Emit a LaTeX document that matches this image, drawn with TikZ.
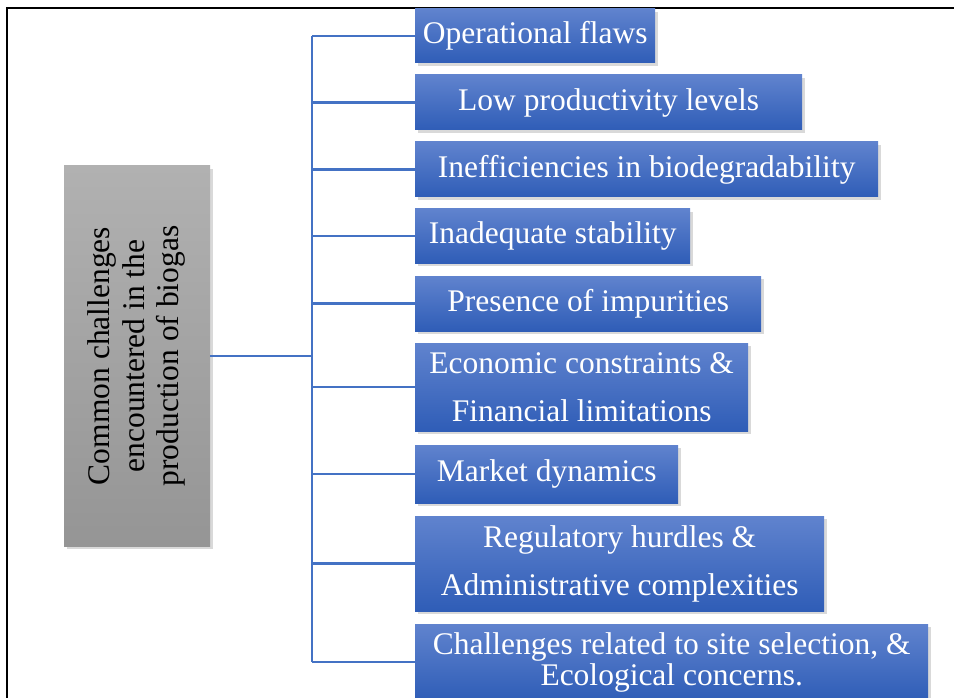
\documentclass[tikz,border=0pt]{standalone}
\usepackage{fontspec}
\setmainfont{Liberation Serif}
\usetikzlibrary{shadows}
\definecolor{linkblue}{RGB}{68,114,196}
\definecolor{boxtop}{RGB}{96,131,206}
\definecolor{boxmid}{RGB}{64,110,200}
\definecolor{boxbot}{RGB}{47,93,183}
\definecolor{greytop}{RGB}{177,177,177}
\definecolor{greybot}{RGB}{149,149,149}

\begin{document}
\begin{tikzpicture}[x=1pt, y=-1pt,
  every node/.style={font=\fontsize{31.5}{48}\selectfont},
  challenge/.style={anchor=west, inner sep=0pt, align=center, text=white,
    top color=boxtop, middle color=boxmid, bottom color=boxbot,
    drop shadow={shadow xshift=2.5pt, shadow yshift=-3pt, opacity=0.3}},
  link/.style={draw=linkblue, line width=2.6pt}]
  \clip (0,0) rectangle (954,698);
  \draw[line width=2.4pt] (7,8) rectangle (1000,760);
  % topic box
  \node[minimum width=146pt, minimum height=380pt, inner sep=0pt,
    top color=greytop, bottom color=greybot,
    drop shadow={shadow xshift=2.5pt, shadow yshift=-3pt, opacity=0.3}] (main) at (137,356)
    {\rotatebox{90}{\fontsize{31.5}{35}\selectfont\begin{tabular}{c}Common challenges\\ encountered in the\\ production of biogas\end{tabular}}};
  % challenges
  \node[challenge, minimum width=240pt, minimum height=54pt] (c1) at (415,36) {Operational flaws};
  \node[challenge, minimum width=387pt, minimum height=55pt] (c2) at (415,102.5) {Low productivity levels};
  \node[challenge, minimum width=463pt, minimum height=55pt] (c3) at (415,169.5) {Inefficiencies in biodegradability};
  \node[challenge, minimum width=275pt, minimum height=54pt] (c4) at (415,236) {Inadequate stability};
  \node[challenge, minimum width=346pt, minimum height=55pt] (c5) at (415,303.5) {Presence of impurities};
  \node[challenge, minimum width=333pt, minimum height=88pt] (c6) at (415,387) {Economic constraints \&\\ Financial limitations};
  \node[challenge, minimum width=263pt, minimum height=58pt] (c7) at (415,474) {Market dynamics};
  \node[challenge, minimum width=409pt, minimum height=95pt] (c8) at (415,563.5) {Regulatory hurdles \&\\ Administrative complexities};
  \node[challenge, minimum width=513pt, minimum height=76pt, font=\fontsize{31.5}{31}\selectfont] (c9) at (415,662) {Challenges related to site selection, \&\\ Ecological concerns.};
  % tree lines
  \coordinate (trunk) at (312,356);
  \draw[link] (main.east) -- (trunk);
  \draw[link] (trunk |- c1.west) -- (trunk |- c9.west);
  \draw[link] (trunk |- c1.west) -- (c1.west);
  \draw[link] (trunk |- c2.west) -- (c2.west);
  \draw[link] (trunk |- c3.west) -- (c3.west);
  \draw[link] (trunk |- c4.west) -- (c4.west);
  \draw[link] (trunk |- c5.west) -- (c5.west);
  \draw[link] (trunk |- c6.west) -- (c6.west);
  \draw[link] (trunk |- c7.west) -- (c7.west);
  \draw[link] (trunk |- c8.west) -- (c8.west);
  \draw[link] (trunk |- c9.west) -- (c9.west);
\end{tikzpicture}
\end{document}
